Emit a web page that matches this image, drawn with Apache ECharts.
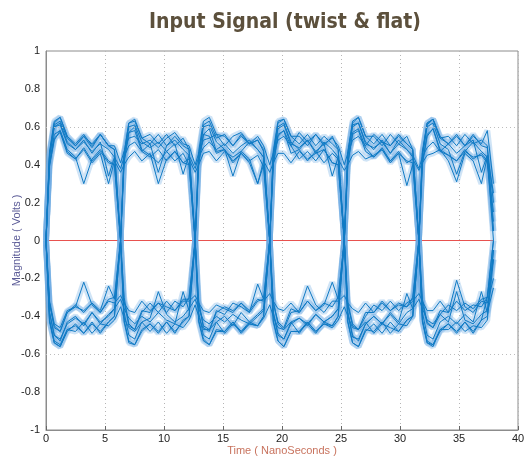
<!DOCTYPE html>
<html><head><meta charset="utf-8">
<script src="https://cdn.jsdelivr.net/npm/echarts@6/dist/echarts.min.js"></script>
<style>html,body{margin:0;padding:0;background:#fff}#c{width:529px;height:458px}</style>
</head><body><div id="c"></div>
<script>
const timeNs = [
 0, 0.3, 0.7, 1.2, 1.8, 2.5, 3.2, 3.9, 4.6, 5.3, 5.8,
 6.32, 6.62, 7.02, 7.52, 8.12, 8.82, 9.52, 10.22, 10.92, 11.62, 12.12,
 12.64, 12.94, 13.34, 13.84, 14.44, 15.14, 15.84, 16.54, 17.24, 17.94, 18.44,
 18.96, 19.26, 19.66, 20.16, 20.76, 21.46, 22.16, 22.86, 23.56, 24.26, 24.76,
 25.28, 25.58, 25.98, 26.48, 27.08, 27.78, 28.48, 29.18, 29.88, 30.58, 31.08,
 31.6, 31.9, 32.3, 32.8, 33.4, 34.1, 34.8, 35.5, 36.2, 36.9, 37.4,
 37.92];

const twist1 = [
 0.02, 0.40, 0.53, 0.58, 0.47, 0.43, 0.49, 0.42, 0.47, 0.41, 0.40,
 0.0, -0.30, -0.44, -0.47, -0.38, -0.33, -0.38, -0.32, -0.37, -0.31, -0.31,
 0.0, 0.41, 0.56, 0.55, 0.46, 0.48, 0.41, 0.46, 0.42, 0.45, 0.39,
 0.0, -0.33, -0.43, -0.46, -0.36, -0.38, -0.32, -0.37, -0.33, -0.35, -0.30,
 0.0, 0.40, 0.57, 0.59, 0.49, 0.44, 0.48, 0.41, 0.46, 0.42, 0.41,
 0.0, -0.31, -0.43, -0.46, -0.39, -0.34, -0.37, -0.33, -0.36, -0.31, -0.30,
 0.0];
const twist2 = [
 -0.02, -0.33, -0.45, -0.48, -0.38, -0.34, -0.38, -0.33, -0.38, -0.31, -0.30,
 0.0, 0.42, 0.57, 0.60, 0.48, 0.45, 0.41, 0.47, 0.42, 0.46, 0.40,
 0.0, -0.32, -0.46, -0.48, -0.37, -0.39, -0.33, -0.35, -0.38, -0.32, -0.31,
 0.0, 0.40, 0.56, 0.58, 0.50, 0.43, 0.47, 0.42, 0.48, 0.41, 0.40,
 0.0, -0.33, -0.44, -0.47, -0.40, -0.34, -0.37, -0.32, -0.37, -0.33, -0.31,
 0.0, 0.41, 0.55, 0.59, 0.47, 0.45, 0.42, 0.48, 0.43, 0.46, 0.42,
 0.05];
const twist3 = [
 0.0, 0.39, 0.54, 0.57, 0.46, 0.43, 0.48, 0.41, 0.46, 0.30, 0.42,
 0.36, 0.40, 0.44, 0.47, 0.42, 0.46, 0.30, 0.43, 0.47, 0.41, 0.40,
 0.0, -0.33, -0.45, -0.47, -0.38, -0.35, -0.37, -0.33, -0.37, -0.31, -0.32,
 -0.28, -0.32, -0.36, -0.37, -0.33, -0.38, -0.32, -0.37, -0.34, -0.22, -0.31,
 0.0, 0.41, 0.56, 0.58, 0.47, 0.44, 0.49, 0.42, 0.47, 0.41, 0.43,
 0.37, 0.41, 0.45, 0.46, 0.48, 0.42, 0.31, 0.46, 0.42, 0.30, 0.44,
 0.10];
const twist4 = [
 0.0, -0.32, -0.44, -0.46, -0.37, -0.35, -0.22, -0.34, -0.38, -0.32, -0.33,
 -0.29, -0.33, -0.37, -0.38, -0.32, -0.37, -0.33, -0.38, -0.32, -0.35, -0.30,
 0.0, 0.40, 0.56, 0.59, 0.47, 0.48, 0.42, 0.46, 0.41, 0.30, 0.42,
 0.36, 0.41, 0.46, 0.46, 0.41, 0.47, 0.43, 0.46, 0.48, 0.41, 0.40,
 0.0, -0.34, -0.45, -0.47, -0.38, -0.38, -0.32, -0.37, -0.33, -0.35, -0.32,
 -0.28, -0.32, -0.37, -0.37, -0.32, -0.38, -0.21, -0.35, -0.38, -0.32, -0.33,
 -0.20];
const twist5 = [
 0.0, 0.41, 0.56, 0.58, 0.48, 0.44, 0.30, 0.43, 0.48, 0.42, 0.40,
 0.0, -0.32, -0.45, -0.47, -0.37, -0.38, -0.33, -0.35, -0.37, -0.32, -0.32,
 -0.29, -0.33, -0.37, -0.38, -0.34, -0.36, -0.38, -0.33, -0.38, -0.23, -0.31,
 0.0, 0.40, 0.55, 0.58, 0.46, 0.48, 0.42, 0.47, 0.41, 0.46, 0.43,
 0.37, 0.40, 0.45, 0.47, 0.43, 0.45, 0.48, 0.42, 0.46, 0.29, 0.40,
 0.0, -0.33, -0.44, -0.46, -0.37, -0.38, -0.32, -0.37, -0.34, -0.35, -0.30,
 0.0];
const twist6 = [
 0.0, -0.33, -0.46, -0.48, -0.38, -0.35, -0.37, -0.33, -0.37, -0.24, -0.31,
 0.0, 0.41, 0.57, 0.58, 0.47, 0.44, 0.48, 0.42, 0.47, 0.41, 0.43,
 0.36, 0.40, 0.46, 0.47, 0.42, 0.47, 0.44, 0.47, 0.43, 0.30, 0.40,
 0.0, -0.32, -0.44, -0.47, -0.38, -0.37, -0.24, -0.34, -0.38, -0.32, -0.32,
 -0.29, -0.33, -0.36, -0.38, -0.33, -0.38, -0.33, -0.37, -0.34, -0.35, -0.30,
 0.0, 0.40, 0.56, 0.59, 0.48, 0.45, 0.42, 0.47, 0.44, 0.45, 0.41,
 0.15];

const flat1 = [
 0.0, 0.46, 0.62, 0.65, 0.55, 0.51, 0.56, 0.50, 0.56, 0.50, 0.48,
 0.0, -0.42, -0.53, -0.55, -0.48, -0.44, -0.49, -0.43, -0.48, -0.43, -0.40,
 0.0, 0.47, 0.63, 0.65, 0.56, 0.55, 0.50, 0.56, 0.51, 0.55, 0.50,
 0.40, 0.46, 0.53, 0.55, 0.50, 0.57, 0.52, 0.56, 0.50, 0.55, 0.48,
 0.0, -0.43, -0.54, -0.56, -0.47, -0.48, -0.43, -0.49, -0.44, -0.45, -0.40,
 0.0, 0.46, 0.61, 0.64, 0.54, 0.55, 0.50, 0.56, 0.51, 0.53, 0.50,
 0.05];
const flat2 = [
 0.0, -0.43, -0.54, -0.56, -0.47, -0.45, -0.49, -0.43, -0.49, -0.43, -0.40,
 0.0, 0.46, 0.62, 0.63, 0.54, 0.56, 0.51, 0.56, 0.50, 0.54, 0.48,
 0.0, -0.42, -0.52, -0.55, -0.48, -0.48, -0.43, -0.48, -0.44, -0.45, -0.41,
 -0.34, -0.40, -0.46, -0.47, -0.43, -0.49, -0.43, -0.48, -0.44, -0.45, -0.40,
 0.0, 0.47, 0.62, 0.65, 0.55, 0.51, 0.56, 0.50, 0.55, 0.51, 0.48,
 0.0, -0.42, -0.53, -0.55, -0.48, -0.44, -0.49, -0.43, -0.48, -0.42, -0.40,
 -0.05];
const flat3 = [
 0.0, 0.45, 0.61, 0.63, 0.54, 0.50, 0.55, 0.49, 0.56, 0.50, 0.50,
 0.41, 0.47, 0.54, 0.55, 0.51, 0.53, 0.49, 0.54, 0.57, 0.51, 0.50,
 0.40, 0.46, 0.53, 0.54, 0.56, 0.50, 0.55, 0.57, 0.51, 0.53, 0.48,
 0.0, -0.43, -0.53, -0.56, -0.48, -0.48, -0.44, -0.49, -0.43, -0.45, -0.40,
 0.0, 0.46, 0.63, 0.65, 0.55, 0.55, 0.50, 0.56, 0.51, 0.55, 0.48,
 0.0, -0.42, -0.54, -0.55, -0.47, -0.47, -0.43, -0.48, -0.45, -0.46, -0.42,
 -0.10];
const flat4 = [
 0.0, -0.42, -0.53, -0.55, -0.47, -0.48, -0.43, -0.49, -0.44, -0.45, -0.42,
 -0.35, -0.41, -0.46, -0.48, -0.43, -0.48, -0.43, -0.49, -0.44, -0.46, -0.42,
 -0.34, -0.40, -0.47, -0.47, -0.43, -0.49, -0.44, -0.48, -0.43, -0.45, -0.40,
 0.0, 0.46, 0.62, 0.64, 0.55, 0.51, 0.56, 0.50, 0.55, 0.51, 0.48,
 0.0, -0.43, -0.54, -0.56, -0.48, -0.44, -0.49, -0.43, -0.48, -0.42, -0.40,
 0.0, 0.47, 0.62, 0.64, 0.54, 0.51, 0.55, 0.50, 0.56, 0.50, 0.49,
 0.20];
const flat5 = [
 0.0, 0.47, 0.63, 0.65, 0.55, 0.50, 0.55, 0.51, 0.56, 0.50, 0.48,
 0.0, -0.43, -0.54, -0.55, -0.47, -0.44, -0.48, -0.43, -0.49, -0.42, -0.40,
 0.0, 0.45, 0.61, 0.63, 0.54, 0.56, 0.50, 0.55, 0.51, 0.53, 0.47,
 0.0, -0.42, -0.53, -0.56, -0.48, -0.48, -0.43, -0.48, -0.44, -0.46, -0.42,
 -0.35, -0.40, -0.46, -0.47, -0.43, -0.49, -0.44, -0.46, -0.48, -0.42, -0.40,
 0.0, 0.46, 0.62, 0.64, 0.55, 0.51, 0.56, 0.50, 0.55, 0.51, 0.58,
 0.30];
const flat6 = [
 0.0, -0.42, -0.54, -0.56, -0.48, -0.44, -0.49, -0.44, -0.48, -0.43, -0.40,
 0.0, 0.46, 0.62, 0.64, 0.54, 0.51, 0.56, 0.50, 0.55, 0.50, 0.48,
 0.0, -0.43, -0.53, -0.55, -0.47, -0.48, -0.43, -0.49, -0.44, -0.45, -0.40,
 0.0, 0.47, 0.63, 0.64, 0.55, 0.55, 0.50, 0.56, 0.51, 0.54, 0.50,
 0.40, 0.46, 0.53, 0.55, 0.50, 0.56, 0.52, 0.50, 0.56, 0.51, 0.48,
 0.0, -0.43, -0.54, -0.56, -0.47, -0.44, -0.48, -0.43, -0.49, -0.42, -0.30,
 -0.10];

const mixed1 = [
 0.0, 0.44, 0.60, 0.61, 0.51, 0.48, 0.53, 0.46, 0.52, 0.34, 0.44,
 0.38, 0.44, 0.50, 0.52, 0.47, 0.51, 0.36, 0.50, 0.53, 0.48, 0.45,
 0.0, -0.38, -0.50, -0.52, -0.43, -0.40, -0.45, -0.38, -0.43, -0.39, -0.36,
 0.0, 0.44, 0.60, 0.62, 0.52, 0.48, 0.53, 0.47, 0.51, 0.34, 0.44,
 0.0, -0.38, -0.50, -0.53, -0.44, -0.40, -0.44, -0.39, -0.44, -0.38, -0.36,
 -0.31, -0.36, -0.42, -0.44, -0.39, -0.43, -0.27, -0.42, -0.44, -0.39, -0.37,
 -0.05];
const mixed2 = [
 0.0, -0.38, -0.50, -0.52, -0.44, -0.41, -0.44, -0.38, -0.43, -0.40, -0.36,
 -0.31, -0.36, -0.41, -0.44, -0.40, -0.43, -0.38, -0.42, -0.44, -0.27, -0.37,
 0.0, 0.44, 0.60, 0.61, 0.52, 0.48, 0.34, 0.47, 0.52, 0.48, 0.44,
 0.0, -0.38, -0.49, -0.52, -0.43, -0.41, -0.45, -0.39, -0.43, -0.40, -0.36,
 0.0, 0.45, 0.61, 0.62, 0.51, 0.49, 0.52, 0.46, 0.53, 0.48, 0.45,
 0.38, 0.44, 0.49, 0.52, 0.47, 0.51, 0.46, 0.50, 0.53, 0.36, 0.45,
 0.25];
const mixed3 = [
 0.0, 0.45, 0.60, 0.62, 0.52, 0.48, 0.52, 0.47, 0.51, 0.48, 0.44,
 0.0, -0.38, -0.50, -0.52, -0.43, -0.41, -0.27, -0.39, -0.43, -0.40, -0.36,
 -0.31, -0.36, -0.42, -0.44, -0.40, -0.43, -0.39, -0.42, -0.44, -0.40, -0.37,
 0.0, 0.44, 0.59, 0.61, 0.51, 0.49, 0.53, 0.46, 0.52, 0.48, 0.44,
 0.0, -0.38, -0.51, -0.52, -0.44, -0.40, -0.44, -0.38, -0.43, -0.28, -0.36,
 0.0, 0.44, 0.60, 0.62, 0.51, 0.48, 0.35, 0.47, 0.52, 0.47, 0.44,
 0.0];
const mixed4 = [
 0.0, -0.38, -0.50, -0.53, -0.43, -0.40, -0.45, -0.38, -0.44, -0.39, -0.36,
 0.0, 0.44, 0.60, 0.61, 0.52, 0.49, 0.52, 0.47, 0.51, 0.35, 0.45,
 0.38, 0.44, 0.49, 0.52, 0.48, 0.51, 0.46, 0.50, 0.53, 0.48, 0.44,
 0.0, -0.38, -0.50, -0.52, -0.44, -0.41, -0.44, -0.39, -0.43, -0.40, -0.36,
 0.0, 0.45, 0.60, 0.62, 0.52, 0.48, 0.53, 0.46, 0.51, 0.48, 0.44,
 0.0, -0.38, -0.50, -0.52, -0.43, -0.40, -0.44, -0.39, -0.43, -0.27, -0.38,
 -0.25];

const referenceLine = [[0, 0], [37.92, 0]];
const gridLevels = [0.6, -0.6];
const xTicks = [0, 5, 10, 15, 20, 25, 30, 35, 40];
const yTicks = [-1, -0.8, -0.6, -0.4, -0.2, 0, 0.2, 0.4, 0.6, 0.8, 1];

const traces = [twist1, twist2, twist3, twist4, twist5, twist6,
  flat1, flat2, flat3, flat4, flat5, flat6, mixed1, mixed2, mixed3, mixed4];
const pairs = v => timeNs.map((t, i) => [t, v[i]]);

const series = [{
  type: 'line', data: referenceLine, symbol: 'none', z: 1,
  lineStyle: { color: '#e8524f', width: 1.2 },
  markLine: {
    silent: true, symbol: 'none', label: { show: false },
    lineStyle: { color: '#bdbdbd', type: [1, 3], width: 1 },
    data: gridLevels.map(v => ({ yAxis: v }))
  }
}];
traces.forEach(v => series.push({
  type: 'line', data: pairs(v), symbol: 'none', z: 2,
  lineStyle: { color: 'rgba(110,170,228,0.32)', width: 6 }
}));
traces.forEach(v => series.push({
  type: 'line', data: pairs(v), symbol: 'none', z: 3,
  lineStyle: { color: '#0f7ac4', width: 1 }
}));

const chart = echarts.init(document.getElementById('c'), null, { renderer: 'canvas' });
chart.setOption({
  animation: false,
  backgroundColor: '#fff',
  title: {
    text: 'Input Signal (twist & flat)', left: 280, top: 7, textAlign: 'center',
    textStyle: { fontFamily: 'DejaVu Sans Condensed', fontWeight: 'bold', fontSize: 21, color: '#5c503c' }
  },
  grid: { left: 46, right: 11, top: 51, bottom: 28, show: true, borderColor: '#8c8c8c', borderWidth: 1,
    containLabel: false, outerBoundsMode: 'none' },
  xAxis: {
    type: 'value', min: xTicks[0], max: xTicks[xTicks.length - 1], interval: 5,
    name: 'Time ( NanoSeconds )', nameLocation: 'middle', nameGap: 15, nameMoveOverlap: false,
    nameTextStyle: { color: '#c8735e', fontSize: 11, fontFamily: 'Liberation Sans' },
    axisLine: { onZero: false, lineStyle: { color: '#8c8c8c' } },
    axisTick: { inside: true, length: 4, lineStyle: { color: '#666' } },
    axisLabel: { color: '#222', fontSize: 11, margin: 3, fontFamily: 'Liberation Sans' },
    splitLine: { show: true, lineStyle: { color: '#b5b5b5', type: [1, 3] } }
  },
  yAxis: {
    type: 'value', min: yTicks[0], max: yTicks[yTicks.length - 1], interval: 0.2,
    name: 'Magnitude ( Volts )', nameLocation: 'middle', nameGap: 24, nameMoveOverlap: false,
    nameTextStyle: { color: '#5a5a96', fontSize: 11, fontFamily: 'Liberation Sans' },
    axisLine: { onZero: false, lineStyle: { color: '#8c8c8c' } },
    axisTick: { show: false },
    axisLabel: { color: '#222', fontSize: 11, margin: 6, fontFamily: 'Liberation Sans',
      formatter: v => String(Math.round(v * 10) / 10) },
    splitLine: { show: false }
  },
  series: series
});
</script></body></html>
